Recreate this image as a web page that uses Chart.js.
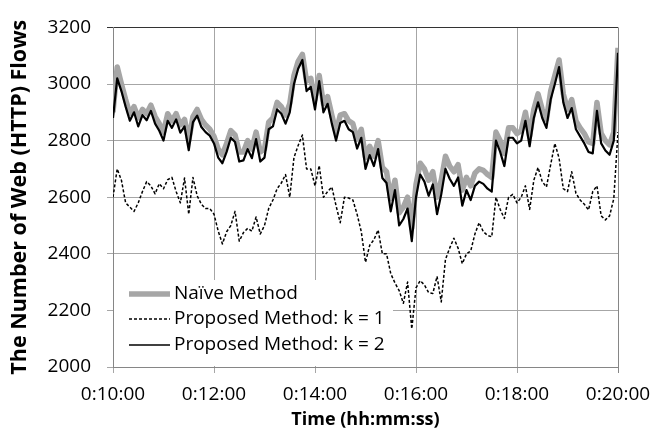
<!DOCTYPE html>
<html>
<head>
<meta charset="utf-8">
<script src="https://cdn.jsdelivr.net/npm/chart.js@4.4.1/dist/chart.umd.min.js"></script>
<style>
  body { margin: 0; background: #fff; }
  canvas { display: block; }
</style>
</head>
<body>
<canvas id="flowChart" width="665" height="431"></canvas>
<script>
// time in seconds (0:10:00 .. 0:20:00), one sample every 5 s
const times = [
  600, 605, 610, 615, 620, 625, 630, 635, 640, 645,
  650, 655, 660, 665, 670, 675, 680, 685, 690, 695,
  700, 705, 710, 715, 720, 725, 730, 735, 740, 745,
  750, 755, 760, 765, 770, 775, 780, 785, 790, 795,
  800, 805, 810, 815, 820, 825, 830, 835, 840, 845,
  850, 855, 860, 865, 870, 875, 880, 885, 890, 895,
  900, 905, 910, 915, 920, 925, 930, 935, 940, 945,
  950, 955, 960, 965, 970, 975, 980, 985, 990, 995,
  1000, 1005, 1010, 1015, 1020, 1025, 1030, 1035, 1040, 1045,
  1050, 1055, 1060, 1065, 1070, 1075, 1080, 1085, 1090, 1095,
  1100, 1105, 1110, 1115, 1120, 1125, 1130, 1135, 1140, 1145,
  1150, 1155, 1160, 1165, 1170, 1175, 1180, 1185, 1190, 1195,
  1200
];

const naive = [
  2900, 3060, 3000, 2945, 2895, 2920, 2880, 2910, 2895, 2925,
  2885, 2860, 2830, 2895, 2870, 2895, 2855, 2875, 2800, 2885,
  2910, 2875, 2855, 2840, 2815, 2770, 2750, 2790, 2835, 2820,
  2760, 2760, 2800, 2770, 2830, 2760, 2770, 2865, 2880, 2935,
  2920, 2890, 2930, 3030, 3080, 3105, 3010, 3020, 2945, 3030,
  2930, 2955, 2890, 2830, 2890, 2895, 2870, 2860, 2805, 2840,
  2740, 2780, 2745, 2800, 2705, 2690, 2595, 2660, 2545, 2565,
  2600, 2490, 2645, 2720, 2700, 2660, 2690, 2600, 2660, 2745,
  2710, 2690, 2715, 2625, 2670, 2640, 2685, 2700, 2695, 2680,
  2670, 2830, 2800, 2755, 2845, 2845, 2825, 2835, 2900, 2815,
  2910, 2965, 2910, 2875, 2975, 3030, 3085, 2965, 2910, 2945,
  2870, 2845, 2825, 2795, 2790, 2935, 2825, 2800, 2785, 2830,
  3128
];

const kOne = [
  2600, 2700, 2660, 2580, 2565, 2550, 2580, 2620, 2655, 2640,
  2612, 2648, 2630, 2662, 2670, 2620, 2580, 2668, 2540, 2670,
  2605, 2575, 2560, 2560, 2540, 2480, 2435, 2478, 2500, 2550,
  2445, 2475, 2490, 2480, 2530, 2470, 2500, 2560, 2590, 2630,
  2650, 2680, 2600, 2740, 2783, 2820, 2700, 2700, 2640, 2712,
  2600, 2620, 2636, 2570, 2510, 2600, 2597, 2590, 2540, 2478,
  2370, 2430, 2450, 2484, 2400, 2400, 2330, 2297, 2270, 2225,
  2300, 2135, 2280, 2305, 2290, 2263, 2260, 2320, 2230, 2380,
  2420, 2455, 2420, 2365, 2400, 2410, 2470, 2510, 2478, 2465,
  2460, 2600, 2557, 2525, 2600, 2610, 2580, 2600, 2640, 2557,
  2660, 2705, 2655, 2636, 2715, 2790, 2738, 2630, 2620, 2690,
  2614, 2590, 2575, 2555, 2620, 2640, 2534, 2520, 2534, 2595,
  2830
];

const kTwo = [
  2880, 3020, 2975, 2920, 2870, 2900, 2850, 2890, 2872, 2905,
  2860, 2835, 2800, 2870, 2845, 2875, 2828, 2850, 2766, 2865,
  2888, 2848, 2830, 2817, 2790, 2740, 2720, 2760, 2810, 2795,
  2726, 2730, 2770, 2738, 2805, 2726, 2740, 2840, 2850, 2910,
  2895, 2860, 2900, 3000, 3054, 3085, 2975, 2990, 2910, 3010,
  2900, 2930, 2860, 2800, 2862, 2870, 2840, 2830, 2772, 2810,
  2700, 2749, 2710, 2770, 2668, 2650, 2550, 2625, 2500, 2523,
  2560, 2445, 2600, 2680, 2655, 2605, 2645, 2540, 2610, 2700,
  2665, 2640, 2670, 2570, 2625, 2590, 2640, 2655, 2647, 2630,
  2620, 2800, 2760, 2710, 2810, 2810, 2790, 2800, 2870, 2780,
  2880, 2935, 2880, 2845, 2945, 3000, 3060, 2935, 2880, 2915,
  2840, 2815, 2790, 2760, 2755, 2905, 2790, 2765, 2750, 2800,
  3110
];

const seriesNames = ['Naïve Method', 'Proposed Method: k = 1', 'Proposed Method: k = 2'];

const FONT = '"Open Sans", "DejaVu Sans", sans-serif';
const GRID = '#a6a6a6';
const AXIS = '#868686';
const NAIVE_GREY = '#a6a6a6';

function pairs(values) {
  return times.map((t, i) => ({ x: t, y: values[i] }));
}

function fmtTime(sec) {
  const m = Math.floor(sec / 60);
  const s = sec % 60;
  return '0:' + m + ':' + String(s).padStart(2, '0');
}

const whiteBg = {
  id: 'whiteBg',
  beforeDraw(chart) {
    const ctx = chart.ctx;
    ctx.save();
    ctx.fillStyle = '#fff';
    ctx.fillRect(0, 0, chart.width, chart.height);
    ctx.restore();
  }
};

// legend sits inside the plot, bottom left, on a white box
const insideLegend = {
  id: 'insideLegend',
  afterDatasetsDraw(chart) {
    const ctx = chart.ctx;
    const area = chart.chartArea;
    ctx.save();
    ctx.fillStyle = '#fff';
    ctx.fillRect(area.left + 1, 280, 393 - area.left - 1, area.bottom - 281);

    const rows = [
      { y: 294, color: NAIVE_GREY, width: 5.5, dash: [] },
      { y: 319, color: '#000', width: 1.4, dash: [3, 2] },
      { y: 345, color: '#000', width: 1.6, dash: [] }
    ];
    rows.forEach((r, i) => {
      ctx.beginPath();
      ctx.strokeStyle = r.color;
      ctx.lineWidth = r.width;
      ctx.setLineDash(r.dash);
      ctx.moveTo(129, r.y);
      ctx.lineTo(170, r.y);
      ctx.stroke();
      ctx.setLineDash([]);
      ctx.fillStyle = '#000';
      ctx.font = '19px ' + FONT;
      ctx.textBaseline = 'middle';
      ctx.textAlign = 'left';
      ctx.fillText(seriesNames[i], 174, r.y);
    });
    ctx.restore();
  }
};

new Chart(document.getElementById('flowChart'), {
  type: 'line',
  data: {
    datasets: [
      {
        label: seriesNames[2],
        data: pairs(kTwo),
        borderColor: '#000',
        borderWidth: 2.2,
        order: 0
      },
      {
        label: seriesNames[1],
        data: pairs(kOne),
        borderColor: '#000',
        borderWidth: 1.5,
        borderDash: [3, 2],
        order: 1
      },
      {
        label: seriesNames[0],
        data: pairs(naive),
        borderColor: NAIVE_GREY,
        borderWidth: 5.5,
        order: 2
      }
    ]
  },
  options: {
    responsive: false,
    animation: false,
    layout: { padding: { top: 14, right: 47, left: 0, bottom: 0 } },
    elements: {
      point: { radius: 0 },
      line: { tension: 0, fill: false, borderJoinStyle: 'round' }
    },
    plugins: {
      legend: { display: false },
      tooltip: { enabled: false }
    },
    scales: {
      x: {
        type: 'linear',
        min: 600,
        max: 1200,
        afterFit(scale) { scale.height = 64; },
        ticks: {
          stepSize: 120,
          callback: v => fmtTime(v),
          color: '#000',
          font: { family: FONT, size: 19 },
          padding: 10,
          maxRotation: 0,
          autoSkip: false
        },
        grid: {
          color: c => (c.tick && c.tick.value === 1200) ? AXIS : GRID,
          tickLength: 6
        },
        border: { color: AXIS },
        title: {
          display: true,
          text: 'Time (hh:mm:ss)',
          color: '#000',
          font: { family: FONT, size: 18, weight: 'bold' },
          padding: { top: 0, bottom: 0 }
        }
      },
      y: {
        min: 2000,
        max: 3200,
        afterFit(scale) { scale.width = 113; },
        ticks: {
          stepSize: 200,
          callback: v => String(v),
          color: '#000',
          font: { family: FONT, size: 19 },
          padding: 16
        },
        grid: {
          color: c => (c.tick && c.tick.value === 3200) ? '#333' : GRID,
          tickLength: 6
        },
        border: { color: AXIS },
        title: {
          display: true,
          text: 'The Number of Web (HTTP) Flows',
          color: '#000',
          font: { family: FONT, size: 21.5, weight: 'bold' },
          padding: { top: 7, bottom: 0 }
        }
      }
    }
  },
  plugins: [whiteBg, insideLegend]
});
</script>
</body>
</html>
